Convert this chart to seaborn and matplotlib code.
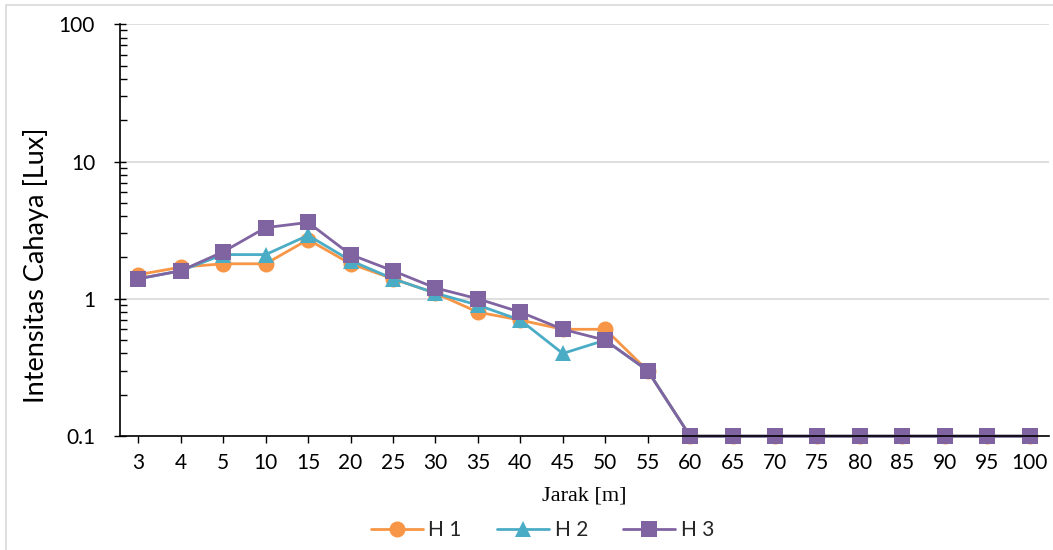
import pandas as pd
import matplotlib.pyplot as plt
import seaborn as sns
from matplotlib.patches import Rectangle
from matplotlib.ticker import LogLocator, FixedLocator, NullFormatter

sns.set_theme(style="white")
plt.rcParams['font.family'] = ['Lato', 'DejaVu Sans']

# distance categories [m]
jarak = ['3', '4', '5', '10', '15', '20', '25', '30', '35', '40',
         '45', '50', '55', '60', '65', '70', '75', '80', '85', '90', '95', '100']

h1 = [1.5, 1.7, 1.8, 1.8, 2.7, 1.8, 1.4, 1.1, 0.8, 0.7,
      0.6, 0.6, 0.3, 0.1, 0.1, 0.1, 0.1, 0.1, 0.1, 0.1, 0.1, 0.1]
h2 = [1.4, 1.6, 2.1, 2.1, 2.9, 1.9, 1.4, 1.1, 0.9, 0.7,
      0.4, 0.5, 0.3, 0.1, 0.1, 0.1, 0.1, 0.1, 0.1, 0.1, 0.1, 0.1]
h3 = [1.4, 1.6, 2.2, 3.3, 3.6, 2.1, 1.6, 1.2, 1.0, 0.8,
      0.6, 0.5, 0.3, 0.1, 0.1, 0.1, 0.1, 0.1, 0.1, 0.1, 0.1, 0.1]

series = {'H 1': h1, 'H 2': h2, 'H 3': h3}
colors = ['#F79646', '#4BACC6', '#8064A2']

rows = []
for name, vals in series.items():
    for j, v in zip(jarak, vals):
        rows.append({'Jarak': j, 'Lux': v, 'Seri': name})
df = pd.DataFrame(rows)

fig = plt.figure(figsize=(10.53, 5.5), dpi=100)
ax = fig.add_axes([0.114, 0.207, 0.882, 0.749])

sns.lineplot(data=df, x='Jarak', y='Lux', hue='Seri', style='Seri',
             markers=['o', '^', 's'], dashes=False, palette=colors,
             markersize=11.5, markeredgewidth=0, linewidth=2, ax=ax,
             sort=False)
for line in ax.lines:
    line.set_clip_on(False)

ax.set_yscale('log')
ax.set_ylim(0.1, 100)
ax.set_xlim(-0.43, len(jarak) - 1 + 0.45)
ax.yaxis.set_major_locator(FixedLocator([0.1, 1, 10, 100]))
ax.set_yticklabels(['0.1', '1', '10', '100'])
ax.yaxis.set_minor_locator(LogLocator(base=10, subs=range(2, 10)))
ax.yaxis.set_minor_formatter(NullFormatter())
ax.grid(axis='y', which='major', color='#D9D9D9', linewidth=1.2)
ax.set_axisbelow(True)

for s in ['top', 'right']:
    ax.spines[s].set_visible(False)
for s in ['left', 'bottom']:
    ax.spines[s].set_color('black')
    ax.spines[s].set_linewidth(1.2)

ax.tick_params(axis='y', which='major', direction='inout', length=8, width=1,
               colors='black', labelsize=15, left=True, pad=14)
ax.tick_params(axis='y', which='minor', direction='in', length=5, width=1,
               colors='black', left=True)
ax.tick_params(axis='x', which='major', direction='out', length=5, width=1,
               colors='black', labelsize=15, bottom=True, pad=7)

ax.set_ylabel('Intensitas Cahaya [Lux]', fontsize=19.5, color='black')
ax.yaxis.set_label_coords(-0.076, 0.415)
ax.set_xlabel('Jarak [m]', fontsize=16, family='Liberation Serif',
              color='black', labelpad=10)

handles, labels = ax.get_legend_handles_labels()
ax.legend(handles, labels, loc='center', bbox_to_anchor=(0.455, -0.228),
          ncol=3, frameon=False, fontsize=15, handlelength=2.5,
          columnspacing=1.7, handletextpad=0.25)

fig.patches.append(Rectangle((6 / 1053, -0.01), 1.02, 1 - 5 / 550 + 0.01,
                             transform=fig.transFigure, fill=False,
                             edgecolor='#D9D9D9', linewidth=1.2))

fig.savefig('out.png', dpi=100)
